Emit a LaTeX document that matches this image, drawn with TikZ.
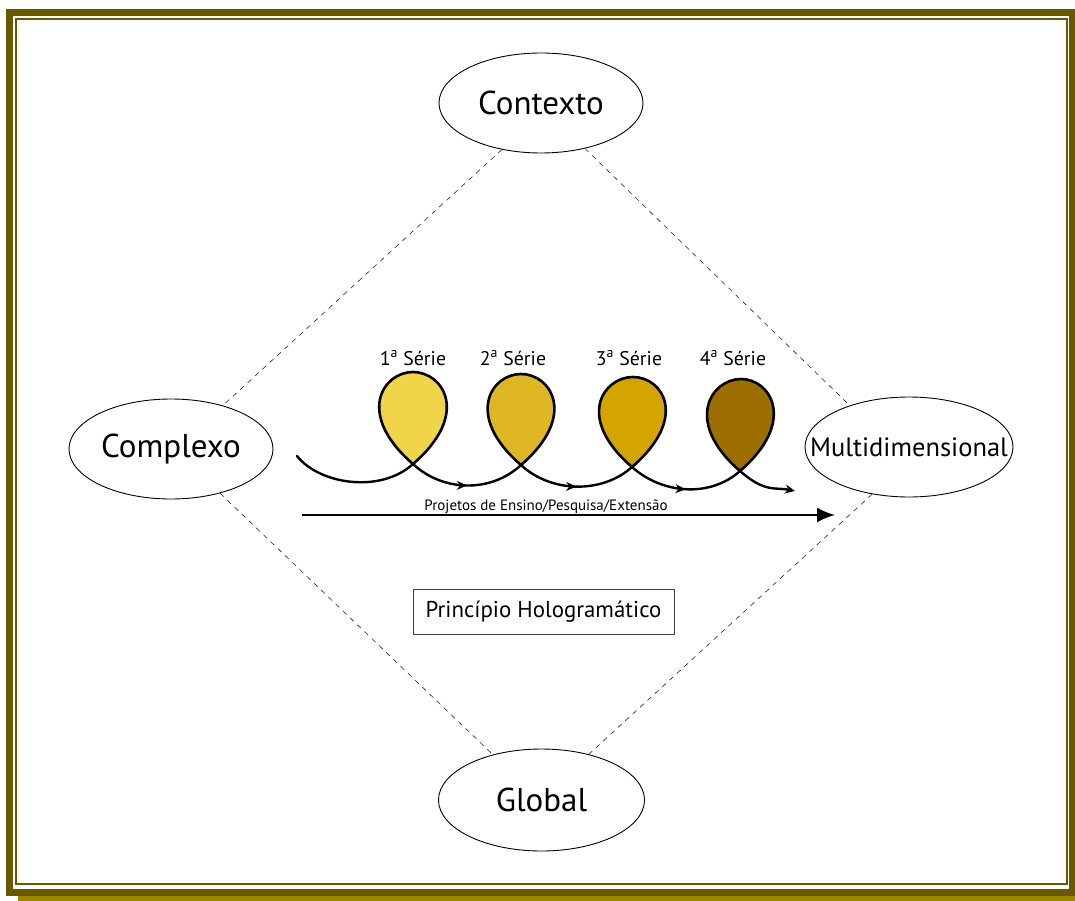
\documentclass[tikz,border=0pt]{standalone}
\usepackage{fontspec}
\setmainfont{PT Sans}
\usetikzlibrary{shapes.geometric,arrows.meta,decorations.markings}
\definecolor{frameolive}{RGB}{104,88,0}
\definecolor{shadowolive}{RGB}{156,135,0}
\definecolor{loopA}{RGB}{240,212,74}
\definecolor{loopB}{RGB}{223,182,35}
\definecolor{loopC}{RGB}{212,165,0}
\definecolor{loopD}{RGB}{156,111,0}
\begin{document}
\begin{tikzpicture}[x=1pt,y=-1pt,
  bignode/.style={ellipse, draw, line width=0.9pt, minimum width=204pt, minimum height=100pt, inner sep=0pt, font=\fontsize{33}{38}\selectfont},
  dashline/.style={dash pattern=on 5pt off 5pt, line width=0.6pt, draw=black!85},
  spiral/.style={line width=2.4pt, line cap=round},
  loopline/.style={line width=2.6pt},
  midarrow/.style={postaction={decorate}, decoration={markings, mark=at position 0.5 with {\arrow{Stealth[length=10pt,width=9pt]}}}},
  serie/.style={font=\fontsize{19.8}{22}\selectfont, inner sep=0pt}
]
\useasboundingbox (0,0) rectangle (1075,901);
% frame
\fill[shadowolive] (18,896) rectangle (1080,901);
\draw[frameolive, line width=7pt] (9.5,12.5) rectangle (1072.5,892.5);
\draw[frameolive, line width=2pt] (16,19) rectangle (1067,884);

% main nodes
\node[bignode] (ctx) at (541,103) {Contexto};
\node[bignode] (cpx) at (171,449) {Complexo};
\node[bignode, minimum width=208pt, label={[font=\fontsize{26.5}{30}\selectfont, inner sep=0pt]center:Multidimensional}] (mdl) at (909,447) {};
\node[bignode, minimum width=206pt, minimum height=102pt] (glb) at (541.5,800) {Global};

% dashed diamond
\draw[dashline] (ctx.230) -- (cpx.40);
\draw[dashline] (ctx.314) -- (mdl.145);
\draw[dashline] (cpx.318) -- (glb.137);
\draw[dashline] (mdl.232) -- (glb.44);

% series labels
\node[serie] (s1) at (413,358) {1\textsuperscript{a} Série};
\node[serie] (s2) at (513,358) {2\textsuperscript{a} Série};
\node[serie] (s3) at (629,358) {3\textsuperscript{a} Série};
\node[serie] (s4) at (733,358) {4\textsuperscript{a} Série};

% spiral points
\coordinate (S) at (297,456);
\coordinate (C1) at (413,464);
\coordinate (T1) at (413,372);
\coordinate (C2) at (521,465);
\coordinate (T2) at (521,374);
\coordinate (C3) at (632,467);
\coordinate (T3) at (633,377);
\coordinate (C4) at (740,471);
\coordinate (T4) at (741,379);
\coordinate (E) at (795,491);

% loop fills
\fill[loopA] (C1) .. controls +(58,-50) and +(30,0) .. (T1) .. controls +(-30,0) and +(-58,-50) .. (C1);
\fill[loopB] (C2) .. controls +(57,-49) and +(30,0) .. (T2) .. controls +(-30,0) and +(-57,-49) .. (C2);
\fill[loopC] (C3) .. controls +(57,-49) and +(30,0) .. (T3) .. controls +(-30,0) and +(-57,-49) .. (C3);
\fill[loopD] (C4) .. controls +(57,-49) and +(30,0) .. (T4) .. controls +(-30,0) and +(-57,-49) .. (C4);

% loop outlines
\draw[loopline] (C1) .. controls +(58,-50) and +(30,0) .. (T1) .. controls +(-30,0) and +(-58,-50) .. (C1);
\draw[loopline] (C2) .. controls +(57,-49) and +(30,0) .. (T2) .. controls +(-30,0) and +(-57,-49) .. (C2);
\draw[loopline] (C3) .. controls +(57,-49) and +(30,0) .. (T3) .. controls +(-30,0) and +(-57,-49) .. (C3);
\draw[loopline] (C4) .. controls +(57,-49) and +(30,0) .. (T4) .. controls +(-30,0) and +(-57,-49) .. (C4);

% spiral segments
\draw[spiral] (S) .. controls +(22,28) and +(-33,30) .. (C1);
\draw[spiral, midarrow] (C1) .. controls +(30,28) and +(-30,28) .. (C2);
\draw[spiral, midarrow] (C2) .. controls +(30,28) and +(-30,27) .. (C3);
\draw[spiral, midarrow] (C3) .. controls +(30,27) and +(-30,27) .. (C4);
\draw[spiral, -{Stealth[length=10pt,width=9pt]}] (C4) .. controls +(25,22) and +(-20,-4) .. (E);

% main arrow
\coordinate (A0) at (302,515);
\coordinate (A1) at (835,515);
\draw[line width=2pt, -{Latex[length=18pt,width=15pt]}] (A0) -- (A1);
\node[font=\fontsize{15}{17}\selectfont, inner sep=0pt] (proj) at (546,507) {Projetos de Ensino/Pesquisa/Extensão};

% box
\node[draw=black!75, line width=0.9pt, minimum width=261pt, minimum height=45pt, inner sep=0pt, font=\fontsize{22.9}{26}\selectfont] (holo) at (543.5,611.5) {Princípio Hologramático};
\end{tikzpicture}
\end{document}
